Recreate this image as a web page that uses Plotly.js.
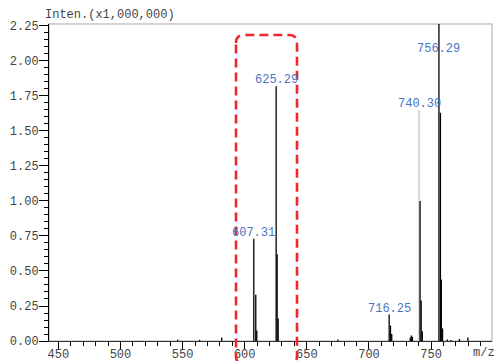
<!DOCTYPE html>
<html>
<head>
<meta charset="utf-8">
<script src="https://cdn.plot.ly/plotly-3.0.1.min.js"></script>
<style>html,body{margin:0;padding:0;background:#fff;}#chart{width:494px;height:361px;}</style>
</head>
<body>
<div id="chart"></div>
<script>
// Peak list (m/z, intensity in x1,000,000)
const peakMz = [546.0, 563.7, 581.5, 593.3, 607.31, 608.9, 609.7, 625.29, 626.1, 626.9,
  675.0, 716.25, 717.3, 718.3, 733.2, 734.1, 735.0, 741.1, 742.0, 742.9,
  756.29, 757.5, 758.2, 759.2, 763.0, 766.0, 772.8, 779.6];
const peakInt = [0.010, 0.008, 0.025, 0.010, 0.73, 0.33, 0.075, 1.82, 0.62, 0.16,
  0.010, 0.19, 0.11, 0.05, 0.025, 0.040, 0.030, 1.00, 0.29, 0.07,
  2.30, 1.63, 0.44, 0.09, 0.010, 0.008, 0.015, 0.025];

// Labelled peaks
const labelText = ["607.31", "625.29", "716.25", "740.30", "756.29"];
const labelMz = [607.31, 625.29, 716.25, 740.30, 756.29];
const labelY = [0.774, 1.862, 0.231, 1.696, 2.083];

// Highlighted (grey) peak
const greyMz = [740.30];
const greyTop = [1.65];

const xTicks = [450, 500, 550, 600, 650, 700, 750];
const yTitle = "Inten.(x1,000,000)";
const xUnit = "m/z";

const xRange = [442.5, 799];
const yRange = [0, 2.264];

// build stick traces
const sx = [], sy = [];
for (let i = 0; i < peakMz.length; i++) {
  sx.push(peakMz[i], peakMz[i], null);
  sy.push(0, peakInt[i], null);
}
const gx = [], gy = [];
for (let i = 0; i < greyMz.length; i++) {
  gx.push(greyMz[i], greyMz[i], null);
  gy.push(0, greyTop[i], null);
}

const FONT = "Liberation Mono, DejaVu Sans Mono, monospace";
const W = 494, H = 361;
const M = {l: 49, r: 2, t: 24, b: 20};
const pw = W - M.l - M.r, ph = H - M.t - M.b;
const px2paperX = p => (p - M.l) / pw;
const px2paperY = p => (H - M.b - p) / ph;

// red dashed rounded rectangle (in pixel -> paper)
const x0 = px2paperX(236), x1 = px2paperX(297);
const y1 = px2paperY(35), y0 = px2paperY(364);
const rx = 8 / pw, ry = 8 / ph;
const rpath = `M ${x0},${y1 - ry} Q ${x0},${y1} ${x0 + rx},${y1} L ${x1 - rx},${y1} Q ${x1},${y1} ${x1},${y1 - ry} ` +
  `L ${x1},${y0 + ry} Q ${x1},${y0} ${x1 - rx},${y0} L ${x0 + rx},${y0} Q ${x0},${y0} ${x0},${y0 + ry} Z`;

const traces = [
  {x: gx, y: gy, type: 'scatter', mode: 'lines', line: {color: '#dcdcdc', width: 2.5}, hoverinfo: 'skip'},
  {x: sx, y: sy, type: 'scatter', mode: 'lines', line: {color: '#000', width: 1.3}, connectgaps: false, hoverinfo: 'skip'}
];

const annotations = labelText.map((t, i) => ({
  x: labelMz[i], y: labelY[i], xref: 'x', yref: 'y', text: t, showarrow: false,
  xanchor: 'center', yanchor: 'middle', font: {family: FONT, size: 12, color: '#4a74c4'}
}));
annotations.push({x: -6 / pw, y: 1, xref: 'paper', yref: 'paper', xanchor: 'left', yanchor: 'bottom',
  yshift: 0, text: yTitle, showarrow: false, font: {family: FONT, size: 12, color: '#444'}});
annotations.push({x: px2paperX(484), y: 0, xref: 'paper', yref: 'paper', xanchor: 'center', yanchor: 'top',
  yshift: -3, text: xUnit, showarrow: false, font: {family: FONT, size: 12, color: '#444'}});

const layout = {
  width: W, height: H,
  margin: M,
  paper_bgcolor: '#fff', plot_bgcolor: '#fff',
  showlegend: false,
  font: {family: FONT, size: 12, color: '#444'},
  xaxis: {
    range: xRange, tickvals: xTicks, ticks: 'outside', ticklen: 8, tickwidth: 1, tickcolor: '#000',
    showline: true, linecolor: '#333', linewidth: 1, showgrid: false, zeroline: false,
    tickfont: {family: FONT, size: 12, color: '#444'}, ticklabelstandoff: -6,
    minor: {dtick: 10, ticks: 'outside', ticklen: 4, tickcolor: '#000', showgrid: false}
  },
  yaxis: {
    range: yRange, dtick: 0.25, tick0: 0, tickformat: '.2f', ticks: 'outside', ticklen: 9, tickwidth: 1, tickcolor: '#000',
    showline: true, linecolor: '#000', linewidth: 1, showgrid: false, zeroline: false,
    tickfont: {family: FONT, size: 12, color: '#444'}, ticklabelstandoff: -2,
    minor: {dtick: 0.05, ticks: 'outside', ticklen: 4, tickcolor: '#000', showgrid: false}
  },
  shapes: [
    {type: 'rect', xref: 'paper', yref: 'paper', x0: 0, x1: 1, y0: 0, y1: 1, line: {color: '#c4c4c4', width: 1.5}, layer: 'below'},
    {type: 'path', xref: 'paper', yref: 'paper', path: rpath, line: {color: '#f0282d', width: 2.6, dash: '9px,5px'}, layer: 'above'}
  ],
  annotations: annotations
};

Plotly.newPlot('chart', traces, layout, {staticPlot: true, displayModeBar: false});
</script>
</body>
</html>
